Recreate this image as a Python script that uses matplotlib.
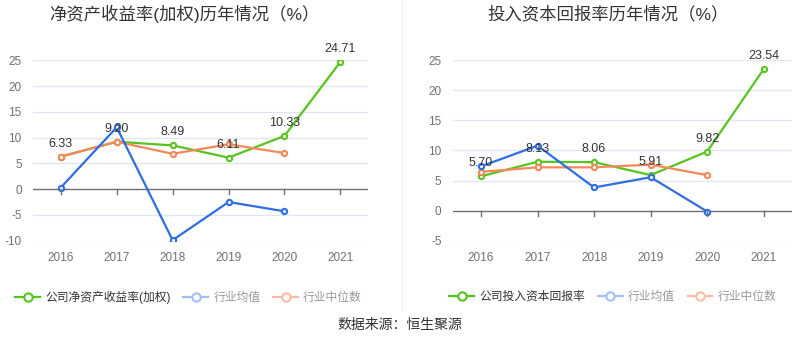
import numpy as np
import matplotlib
matplotlib.use("Agg")
import matplotlib.pyplot as plt
from matplotlib.lines import Line2D

plt.rcParams["font.family"] = ["Liberation Sans", "Noto Sans CJK SC"]

years = ["2016", "2017", "2018", "2019", "2020", "2021"]

# left: ROE (weighted)
roe_company = [6.33, 9.20, 8.49, 6.11, 10.33, 24.71]
roe_ind_mean = [0.3, 12.0, -9.9, -2.5, -4.3]
roe_ind_median = [6.3, 9.2, 6.85, 8.7, 7.0]

# right: ROIC
roic_company = [5.70, 8.13, 8.06, 5.91, 9.82, 23.54]
roic_ind_mean = [7.35, 10.8, 3.85, 5.55, -0.15]
roic_ind_median = [6.45, 7.2, 7.2, 7.65, 5.9]

GREEN = "#56c41e"
BLUE = "#2f6de3"
ORANGE = "#f5875a"
GRID = "#e0e6f1"
TICK = "#6e7079"


def draw_panel(ax, company, mean, median, ylim, yticks):
    x = np.arange(len(years))
    kw = dict(lw=1.6, marker="o", ms=3.8, mfc="white", mew=1.5)
    ax.plot(x, company, color=GREEN, zorder=3, **kw)
    ax.plot(x[:len(median)], median, color=ORANGE, zorder=4, **kw)
    ax.plot(x[:len(mean)], mean, color=BLUE, zorder=5, **kw)
    for xi, v in zip(x, company):
        ax.annotate(f"{v:.2f}", (xi, v), xytext=(0, 5), textcoords="offset points",
                    ha="center", va="bottom", fontsize=9, color="#333333", zorder=6)
    ax.set_xlim(-0.5, len(years) - 0.5)
    ax.set_ylim(*ylim)
    ax.set_yticks(yticks)
    ax.set_yticklabels([str(t) for t in yticks])
    ax.set_xticks(x)
    ax.set_xticklabels(years)
    for t in yticks:
        if t != 0:
            ax.axhline(t, color=GRID, lw=0.9, zorder=1)
    ax.axhline(0, color=TICK, lw=1.0, zorder=2)
    for s in ax.spines.values():
        s.set_visible(False)
    ax.tick_params(axis="y", length=0, labelsize=8.5, labelcolor=TICK, pad=8)
    ax.tick_params(axis="x", length=0, labelsize=8.5, labelcolor=TICK, pad=8)


fig = plt.figure(figsize=(8, 3.58), dpi=100)
ax1 = fig.add_axes([0.041, 0.3277, 0.4195, 0.5039])
ax2 = fig.add_axes([0.5659, 0.3277, 0.4241, 0.5039])

draw_panel(ax1, roe_company, roe_ind_mean, roe_ind_median,
           (-10, 25), [-10, -5, 0, 5, 10, 15, 20, 25])
draw_panel(ax2, roic_company, roic_ind_mean, roic_ind_median,
           (-5, 25), [-5, 0, 5, 10, 15, 20, 25])

# small tick marks under the zero line at each category
for ax in (ax1, ax2):
    y0 = ax.transData.transform((0, 0))[1]
    for xi in range(len(years)):
        px = ax.transData.transform((xi, 0))[0]
        fx, fy = fig.transFigure.inverted().transform((px, y0))
        fig.add_artist(Line2D([fx, fx], [fy, fy - 5 / 358], color=TICK, lw=1.0))

fig.text(0.231, 0.962, "净资产收益率(加权)历年情况（%）", ha="center", va="center",
         fontsize=12.5, color="#333333")
fig.text(0.760, 0.962, "投入资本回报率历年情况（%）", ha="center", va="center",
         fontsize=12.5, color="#333333")

# divider
fig.add_artist(Line2D([0.5025, 0.5025], [0.13, 1.0], color="#eeeeee", lw=0.8))


def make_legend(labels, center_x):
    mk = dict(marker="o", ms=6, mfc="white", mew=1.5, lw=1.6)
    handles = [Line2D([], [], color=GREEN, **mk),
               Line2D([], [], color="#a3bff5", **mk),
               Line2D([], [], color="#fbbca4", **mk)]
    leg = fig.legend(handles, labels, loc="center", bbox_to_anchor=(center_x, 0.170),
                     ncol=3, frameon=False, fontsize=8.5, handlelength=2.1,
                     handletextpad=0.42, columnspacing=1.1)
    cols = ["#333333", "#999999", "#999999"]
    for t, c in zip(leg.get_texts(), cols):
        t.set_color(c)


make_legend(["公司净资产收益率(加权)", "行业均值", "行业中位数"], 0.2356)
make_legend(["公司投入资本回报率", "行业均值", "行业中位数"], 0.766)

fig.text(0.5, 0.092, "数据来源：恒生聚源", ha="center", va="center", fontsize=10,
         color="#333333")

fig.savefig("out.png", dpi=100)
